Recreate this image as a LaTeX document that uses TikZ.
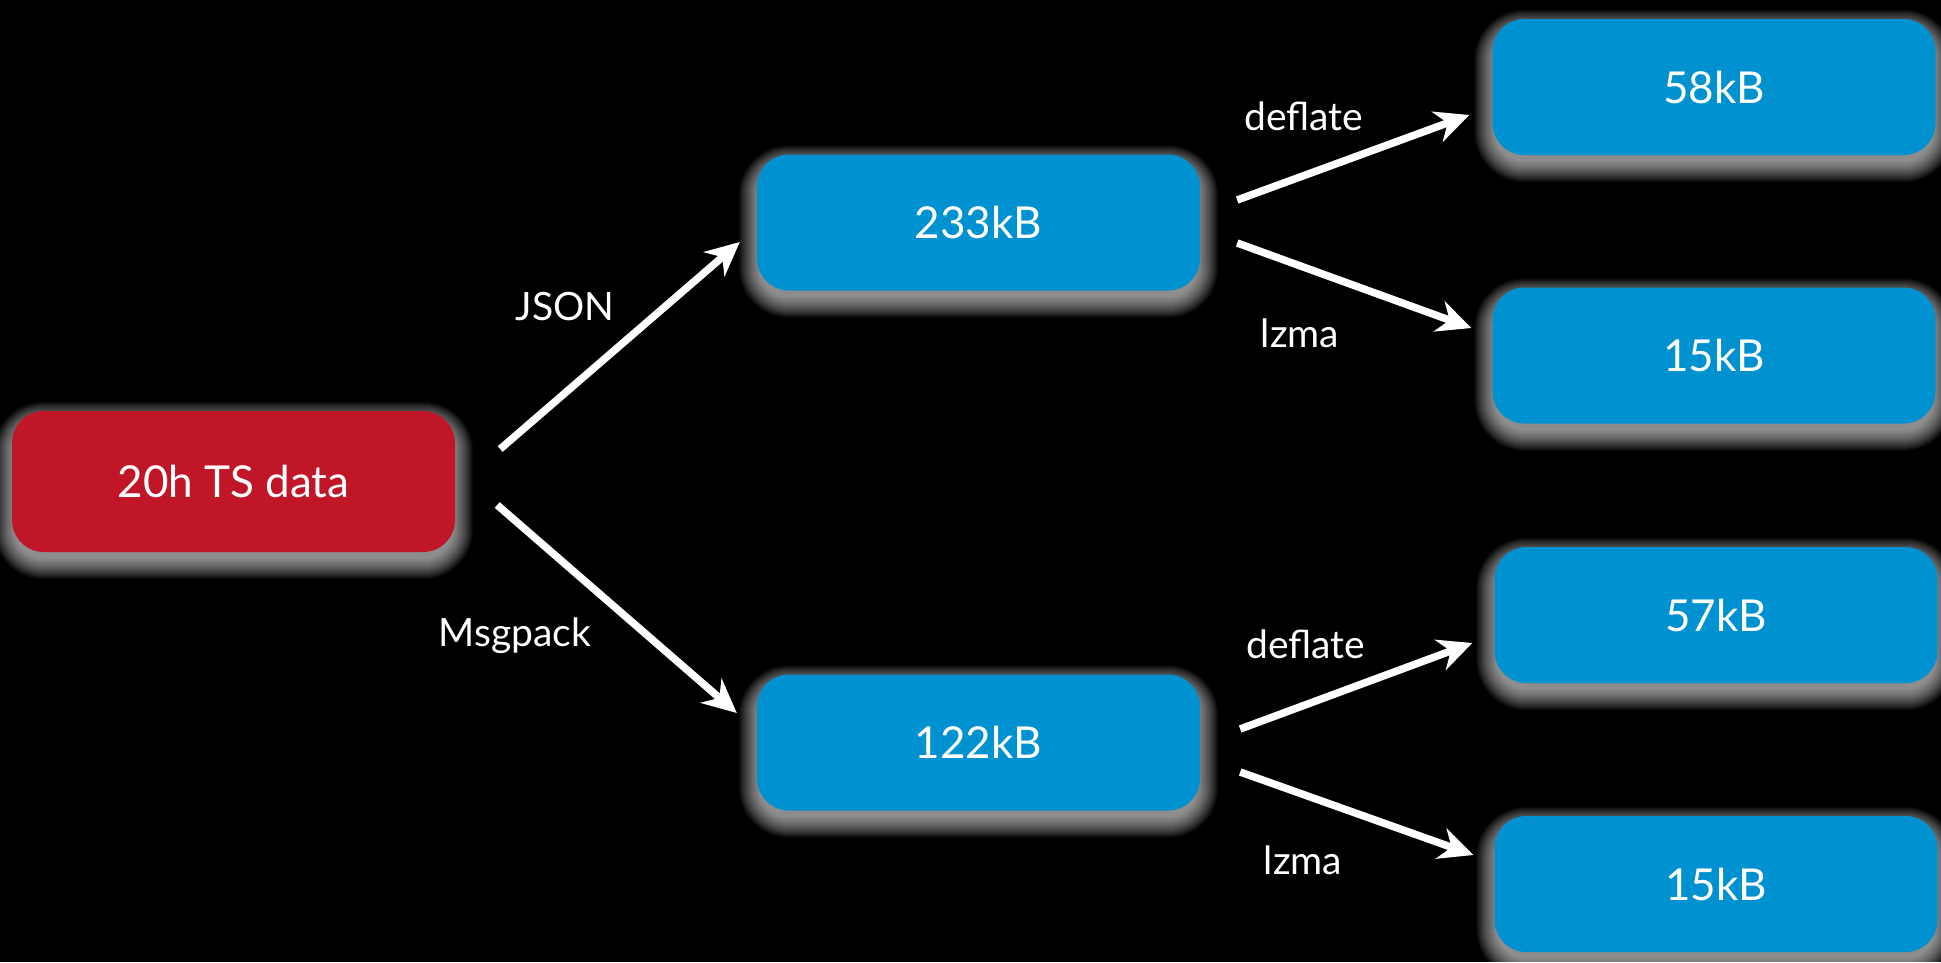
\documentclass[tikz,border=0pt]{standalone}
\usepackage{fontspec}
\setmainfont{Lato}
\usetikzlibrary{arrows.meta}
\pgfdeclarelayer{backdrop}
\pgfdeclarelayer{glow}
\pgfsetlayers{backdrop,glow,main}
\definecolor{boxred}{RGB}{193,22,40}
\definecolor{boxblue}{RGB}{0,145,208}
\tikzset{
  box/.style={rounded corners=32pt, minimum width=443pt, minimum height=136pt,
    inner sep=0pt, text=white, font=\fontsize{44}{50}\selectfont},
  redbox/.style={box, fill=boxred, minimum height=141pt},
  bluebox/.style={box, fill=boxblue},
  flow/.style={draw=white, line width=7.5pt,
    -{Stealth[length=34pt, width=32pt, inset=11pt]}},
  tag/.style={text=white, font=\fontsize{39}{45}\selectfont, anchor=base, inner sep=0pt},
}
% soft light halo behind a box, slightly offset downwards
\newcommand\halo[1]{%
  \begin{pgfonlayer}{glow}
    \foreach \k in {1,...,22}{
      \fill[white, opacity=0.04, rounded corners={(28+\k)*1pt}]
        ([shift={(-\k+4,13-\k)}]#1.north west) rectangle ([shift={(\k-4,\k+5)}]#1.south east);
    }
  \end{pgfonlayer}}
\begin{document}
\begin{tikzpicture}[x=1pt, y=-1pt]
  \useasboundingbox (0,0) rectangle (1941,962);
  \begin{pgfonlayer}{backdrop}
    \fill[black] (0,0) rectangle (1941,962);
  \end{pgfonlayer}

  % source data
  \node[redbox] (src) at (233.5,481.5) {20h TS data};

  % serialised sizes
  \node[bluebox] (json) at (978.5,222.5) {233kB};
  \node[bluebox] (msg)  at (978.5,742.5) {122kB};

  % compressed sizes
  \node[bluebox] (jdef) at (1714,87)    {58kB};
  \node[bluebox] (jlz)  at (1714,355.5) {15kB};
  \node[bluebox] (mdef) at (1716,615)   {57kB};
  \node[bluebox] (mlz)  at (1716,884)   {15kB};

  \foreach \n in {src,json,msg,jdef,jlz,mdef,mlz}{\halo{\n}}

  % serialisation step
  \draw[flow] ([shift={(45,-32.5)}]src.east) -- ([shift={(-17,19.5)}]json.west);
  \draw[flow] ([shift={(42,23.5)}]src.east)  -- ([shift={(-20,-29.5)}]msg.west);
  \node[tag] (lj) at (565,320) {JSON};
  \node[tag] (lm) at (515,646) {Msgpack};

  % compression step
  \draw[flow] ([shift={(37,-22.5)}]json.east) -- ([shift={(-23,28)}]jdef.west);
  \draw[flow] ([shift={(37,20.5)}]json.east)  -- ([shift={(-21,-27.5)}]jlz.west);
  \draw[flow] ([shift={(40,-13.5)}]msg.east)  -- ([shift={(-22,28)}]mdef.west);
  \draw[flow] ([shift={(40,29.5)}]msg.east)   -- ([shift={(-21,-29)}]mlz.west);
  \node[tag] (ljd) at (1304,130) {deflate};
  \node[tag] (ljl) at (1300,347) {lzma};
  \node[tag] (lmd) at (1306,658) {deflate};
  \node[tag] (lml) at (1303,874) {lzma};
\end{tikzpicture}
\end{document}
